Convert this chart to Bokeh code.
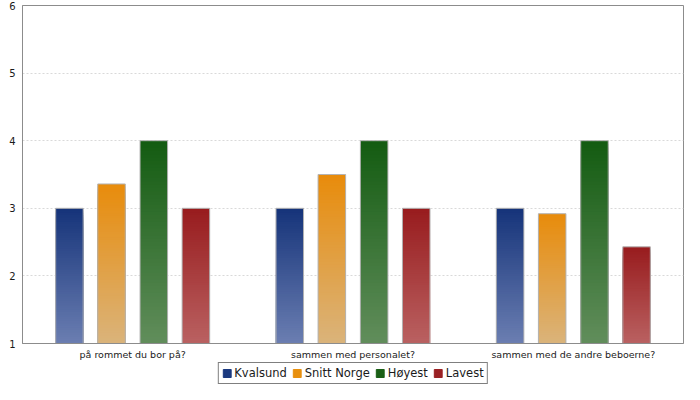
import numpy as np
from bokeh.plotting import figure
from bokeh.layouts import column
from bokeh.models import ColumnDataSource, FactorRange, Legend, LegendItem, FixedTicker, Range1d
from bokeh.transform import dodge
from bokeh.embed import file_html
from bokeh.resources import INLINE

categories = ["på rommet du bor på?", "sammen med personalet?", "sammen med de andre beboerne?"]
series_names = ["Kvalsund", "Snitt Norge", "Høyest", "Lavest"]
kvalsund = [3.0, 3.0, 3.0]
snitt_norge = [3.36, 3.5, 2.92]
hoyest = [4.0, 4.0, 4.0]
lavest = [3.0, 3.0, 2.43]
y_ticks = [1, 2, 3, 4, 5, 6]

series_values = [kvalsund, snitt_norge, hoyest, lavest]
top_colors = [(22, 52, 122), (232, 140, 12), (20, 92, 18), (152, 28, 30)]
bottom_colors = [(108, 127, 178), (218, 180, 124), (98, 142, 92), (186, 98, 98)]
legend_colors = ["#1b3a80", "#e8900f", "#1a5f16", "#9a2124"]
offsets = [-0.287, -0.096, 0.096, 0.287]
bar_w = 0.125
base = 1.0
N = 60

p = figure(x_range=FactorRange(factors=categories), y_range=(1, 6),
           width=684, height=362, output_backend="svg", toolbar_location=None,
           min_border_left=22, min_border_right=1, min_border_top=5, min_border_bottom=1)

p.outline_line_color = "#8c8c8c"
p.xgrid.grid_line_color = None
p.ygrid.grid_line_color = "#d9d9d9"
p.ygrid.grid_line_dash = "2 2"
p.yaxis.ticker = FixedTicker(ticks=y_ticks)

for ax in (p.xaxis[0], p.yaxis[0]):
    ax.axis_line_color = "#8c8c8c"
    ax.major_tick_line_color = None
    ax.minor_tick_line_color = None
    ax.major_tick_out = 0
    ax.major_tick_in = 0
    ax.major_label_text_font = "DejaVu Sans"
    ax.major_label_text_color = "#1a1a1a"
p.yaxis.major_label_text_font_size = "10px"
p.yaxis.major_label_standoff = 7
p.xaxis.major_label_text_font_size = "9.5px"
p.xaxis.major_label_standoff = 5

# legend strip (separate small figure below the chart)
lf = figure(x_range=FactorRange(factors=categories), y_range=Range1d(-2, -1),
            width=684, height=22, output_backend="svg", toolbar_location=None,
            x_axis_type=None, y_axis_type=None,
            min_border_left=0, min_border_right=0, min_border_top=0, min_border_bottom=0)
lf.outline_line_color = None
lf.xgrid.grid_line_color = None
lf.ygrid.grid_line_color = None

items = []
for name, vals, tc, bc, lc, off in zip(series_names, series_values, top_colors,
                                      bottom_colors, legend_colors, offsets):
    cats, tops, cols = [], [], []
    for k in range(N, 0, -1):
        f = k / N
        col = tuple(int(round(b + (t - b) * f)) for t, b in zip(tc, bc))
        hexc = "#%02x%02x%02x" % col
        for c, v in zip(categories, vals):
            cats.append(c)
            tops.append(base + (v - base) * f)
            cols.append(hexc)
    src = ColumnDataSource(dict(cat=cats, top=tops, color=cols))
    p.vbar(x=dodge("cat", off, range=p.x_range), bottom=base, top="top", width=bar_w,
           fill_color="color", line_color=None, source=src)
    osrc = ColumnDataSource(dict(cat=categories, val=vals))
    p.vbar(x=dodge("cat", off, range=p.x_range), bottom=base, top="val", width=bar_w,
           fill_color=None, line_color="#b4b4b4", line_width=1, source=osrc)
    # hidden proxy renderer that only supplies the legend key
    lr = lf.vbar(x=dodge("cat", off, range=lf.x_range), bottom=base, top="val", width=bar_w,
                 fill_color=lc, line_color=lc, source=osrc)
    lr.visible = False
    items.append(LegendItem(label=name, renderers=[lr]))

legend = Legend(items=items, orientation="horizontal", location="center",
                border_line_color="black", border_line_width=1,
                label_text_font="DejaVu Sans", label_text_font_size="11.5px",
                label_text_color="#1a1a1a", click_policy="none",
                inactive_fill_alpha=0.0,
                glyph_width=10, glyph_height=10, label_standoff=3, spacing=5,
                padding=3, margin=0, label_height=14)
lf.add_layout(legend)

layout = column(p, lf)
open("out.html", "w").write(file_html(layout, INLINE))
